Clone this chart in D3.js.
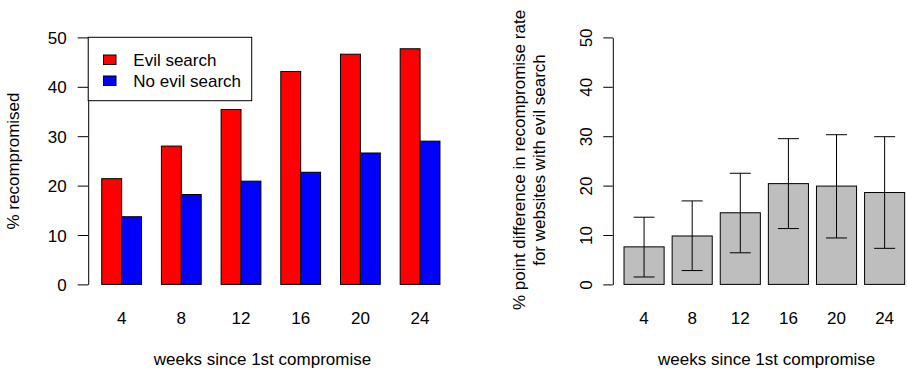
<!DOCTYPE html>
<html>
<head>
<meta charset="utf-8">
<script src="https://cdn.jsdelivr.net/npm/d3@7"></script>
<style>
  html, body { margin: 0; padding: 0; background: #fff; }
  text { font-family: "Liberation Sans", Arial, sans-serif; font-size: 17px; fill: #000; }
</style>
</head>
<body>
<svg id="chart" width="907" height="371"></svg>
<script>
// ---- data ----
const weeks = ["4", "8", "12", "16", "20", "24"];
const evilSearch = [21.4, 28.0, 35.4, 43.1, 46.6, 47.7];
const noEvilSearch = [13.7, 18.2, 20.9, 22.7, 26.6, 29.0];
const diff = [7.6, 9.8, 14.5, 20.4, 19.9, 18.6];
const diffLower = [1.5, 2.8, 6.4, 11.3, 9.4, 7.3];
const diffUpper = [13.6, 16.9, 22.5, 29.5, 30.3, 29.9];
const yTicks = [0, 10, 20, 30, 40, 50];
const seriesNames = ["Evil search", "No evil search"];
const seriesColors = ["#FF0000", "#0000FF"];
const xTitle = "weeks since 1st compromise";

const svg = d3.select("#chart");

// shared y scale
const y = d3.scaleLinear().domain([0, 50]).range([284.4, 37.4]);

// ================= LEFT PANEL =================
// R-like bar units: groups of 2 bars + 1 space, width 1
const xL = d3.scaleLinear().domain([0.32, 18.68]).range([88.2, 453.5]);
const gL = svg.append("g");

weeks.forEach((w, i) => {
  const start = 1 + i * 3;
  [evilSearch[i], noEvilSearch[i]].forEach((v, j) => {
    gL.append("rect")
      .attr("x", xL(start + j))
      .attr("y", y(v))
      .attr("width", xL(start + j + 1) - xL(start + j))
      .attr("height", y(0) - y(v))
      .attr("fill", seriesColors[j])
      .attr("stroke", "#000")
      .attr("stroke-width", 1);
  });
  gL.append("text")
    .attr("x", xL(start + 1))
    .attr("y", 323.8)
    .attr("text-anchor", "middle")
    .text(w);
});

const axL = gL.append("g")
  .attr("transform", `translate(${xL(0.32)},0)`)
  .call(d3.axisLeft(y).tickValues(yTicks).tickSize(10.5).tickSizeOuter(0).tickPadding(11));
axL.select(".domain").attr("stroke", "#000");
axL.selectAll(".tick line").attr("stroke", "#000");
axL.selectAll(".tick text")
  .attr("font-size", null).attr("font-family", null)
  .attr("dy", "0.36em");
axL.attr("font-size", null).attr("font-family", null);

// legend
const leg = gL.append("g");
leg.append("rect")
  .attr("x", 88.2).attr("y", 37.3).attr("width", 163.5).attr("height", 63.4)
  .attr("fill", "#fff").attr("stroke", "#000").attr("stroke-width", 1);
seriesNames.forEach((n, j) => {
  leg.append("rect")
    .attr("x", 103.5).attr("y", 55 + j * 21)
    .attr("width", 12.5).attr("height", 9.5)
    .attr("fill", seriesColors[j]).attr("stroke", "#000").attr("stroke-width", 1);
  leg.append("text")
    .attr("x", 133.3).attr("y", 65.7 + j * 21.6)
    .text(n);
});

gL.append("text")
  .attr("transform", "translate(19,161) rotate(-90)")
  .attr("text-anchor", "middle")
  .text("% recompromised");

gL.append("text")
  .attr("x", 262.5).attr("y", 364.5)
  .attr("text-anchor", "middle")
  .text(xTitle);

// ================= RIGHT PANEL =================
const xR = d3.scaleLinear().domain([-0.08, 7.48]).range([612.8, 915.9]);
const gR = svg.append("g");

weeks.forEach((w, i) => {
  const start = 0.2 + i * 1.2;
  const cx = xR(start + 0.5);
  gR.append("rect")
    .attr("x", xR(start))
    .attr("y", y(diff[i]))
    .attr("width", xR(start + 1) - xR(start))
    .attr("height", y(0) - y(diff[i]))
    .attr("fill", "#BEBEBE")
    .attr("stroke", "#000")
    .attr("stroke-width", 1);
  gR.append("line")
    .attr("x1", cx).attr("x2", cx)
    .attr("y1", y(diffLower[i])).attr("y2", y(diffUpper[i]))
    .attr("stroke", "#000").attr("stroke-width", 1);
  [diffLower[i], diffUpper[i]].forEach(v => {
    gR.append("line")
      .attr("x1", cx - 10.5).attr("x2", cx + 10.5)
      .attr("y1", y(v)).attr("y2", y(v))
      .attr("stroke", "#000").attr("stroke-width", 1);
  });
  gR.append("text")
    .attr("x", cx)
    .attr("y", 324)
    .attr("text-anchor", "middle")
    .text(w);
});

const axR = gR.append("g")
  .attr("transform", `translate(${xR(-0.08)},0)`)
  .call(d3.axisLeft(y).tickValues(yTicks).tickSize(9.5).tickSizeOuter(0));
axR.attr("font-size", null).attr("font-family", null);
axR.select(".domain").attr("stroke", "#000");
axR.selectAll(".tick line").attr("stroke", "#000");
axR.selectAll(".tick text")
  .attr("font-size", null).attr("font-family", null)
  .attr("transform", "rotate(-90)")
  .attr("x", 0).attr("y", -21).attr("dy", 0)
  .attr("text-anchor", "middle");

const yLab = gR.append("g").attr("transform", "translate(0,160)");
yLab.append("text")
  .attr("transform", "translate(525,0) rotate(-90)")
  .attr("text-anchor", "middle")
  .text("% point difference in recompromise rate");
yLab.append("text")
  .attr("transform", "translate(545,0) rotate(-90)")
  .attr("text-anchor", "middle")
  .text("for websites with evil search");

gR.append("text")
  .attr("x", 766.7).attr("y", 364.5)
  .attr("text-anchor", "middle")
  .text(xTitle);
</script>
</body>
</html>
